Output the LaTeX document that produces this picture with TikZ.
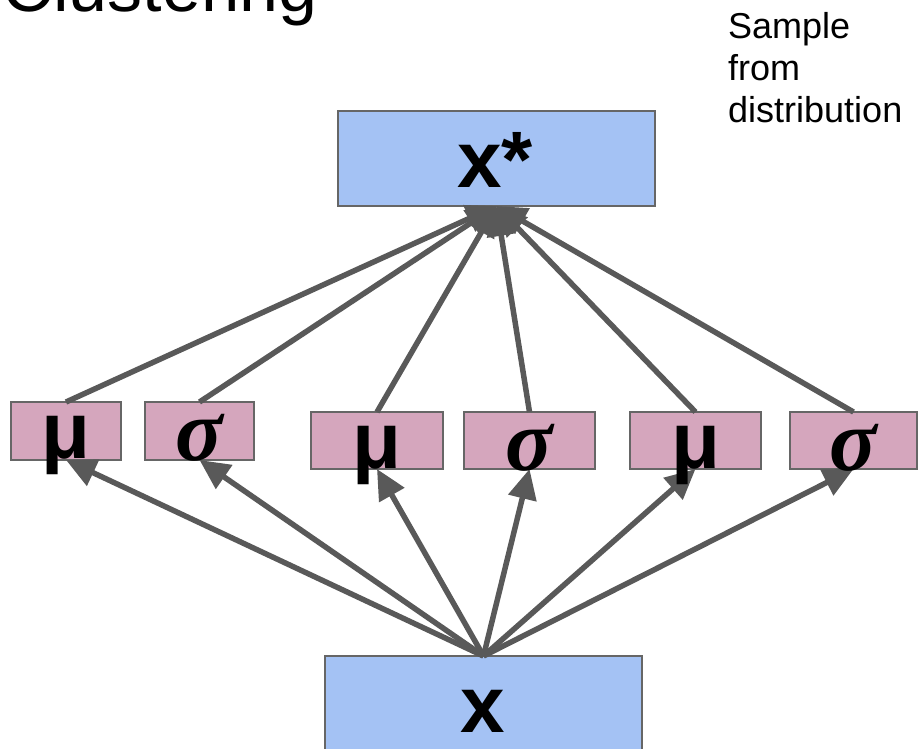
\documentclass[tikz,border=0pt]{standalone}
\usepackage{fontspec}
\setmainfont{Liberation Sans}
\newfontfamily\greekserif{Liberation Serif}
\usetikzlibrary{arrows.meta}

\definecolor{boxblue}{HTML}{A4C2F4}
\definecolor{boxpink}{HTML}{D5A6BD}
\definecolor{edgegray}{HTML}{666666}
\definecolor{arrowgray}{HTML}{595959}

\tikzset{
  plainbox/.style={draw=edgegray, line width=1.5pt, rectangle, anchor=north west,
                   inner sep=0pt, outer sep=0pt},
  databox/.style={plainbox, fill=boxblue},
  parambox/.style={plainbox, fill=boxpink},
  link/.style={draw=arrowgray, line width=5.5pt},
  flow/.style={link, -{Triangle[length=30pt,width=28pt]}},
  bigsym/.style={font=\fontsize{80}{80}\selectfont\bfseries, inner sep=0pt, anchor=base},
  musym/.style={font=\fontsize{80}{80}\selectfont\bfseries, inner sep=0pt, anchor=base},
  sigmasym/.style={font=\fontsize{88}{88}\selectfont\greekserif\bfseries\itshape, inner sep=0pt, anchor=base},
  note/.style={font=\fontsize{36}{42}\selectfont, inner sep=0pt, anchor=base west},
}

\begin{document}
\begin{tikzpicture}[x=1pt, y=-1pt]
\useasboundingbox (0,0) rectangle (918,749);

% title, mostly above the visible area
\node[font=\fontsize{70}{70}\selectfont, inner sep=0pt, anchor=base east] (title) at (318,12) {Clustering};

% side note
\node[note] (note1) at (728,39) {Sample};
\node[note] (note2) at (728,81) {from};
\node[note] (note3) at (728,123) {distribution};

% output and input boxes
\node[databox, minimum width=317pt, minimum height=95pt] (xs) at (338,111) {};
\node[databox, minimum width=317pt, minimum height=110pt] (xin) at (325,656) {};

% mean / std boxes
\node[parambox, minimum width=110pt, minimum height=58pt] (m1) at (11,402) {};
\node[parambox, minimum width=109pt, minimum height=58pt] (s1) at (145,402) {};
\node[parambox, minimum width=132pt, minimum height=57pt] (m2) at (311,412) {};
\node[parambox, minimum width=131pt, minimum height=57pt] (s2) at (464,412) {};
\node[parambox, minimum width=131pt, minimum height=57pt] (m3) at (630,412) {};
\node[parambox, minimum width=127pt, minimum height=57pt] (s3) at (790,412) {};

% input feeds every parameter
\foreach \b in {m1,s1,m2,s2,m3,s3}
  \draw[flow] (xin.north) -- (\b.south);

% parameters feed the sample
\foreach \b in {m1,s1,m2,s2,m3,s3}
  \draw[flow] (\b.north) -- (xs.south);

% labels
\node[bigsym] (xslabel) at (495,187) {x*};
\node[bigsym] (xlabel) at (483,732) {x};

\node[musym] (m1l) at (m1.center |- {(0,458)}) {μ};
\node[sigmasym] (s1l) at (s1.center |- {(0,460)}) {σ};
\node[musym] (m2l) at (m2.center |- {(0,468)}) {μ};
\node[sigmasym] (s2l) at (s2.center |- {(0,470)}) {σ};
\node[musym] (m3l) at (m3.center |- {(0,468)}) {μ};
\node[sigmasym] (s3l) at (s3.center |- {(0,470)}) {σ};
\end{tikzpicture}
\end{document}
